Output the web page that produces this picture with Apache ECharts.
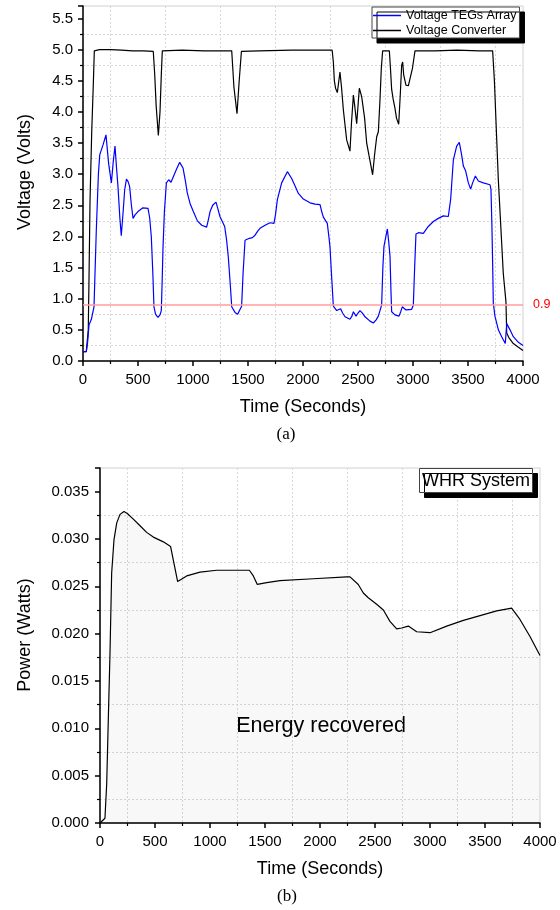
<!DOCTYPE html>
<html>
<head>
<meta charset="utf-8">
<title>TEG voltage and WHR power</title>
<script src="https://cdn.jsdelivr.net/npm/echarts@6/dist/echarts.min.js"></script>
<style>
  html, body { margin: 0; padding: 0; background: #fff; }
  #chart { width: 560px; height: 910px; }
</style>
</head>
<body>
<div id="chart"></div>
<script>
// [time (s), volts]
const voltTeg = [
  [0, 0.15], [30, 0.15], [42, 0.3], [55, 0.58], [65, 0.55], [76, 0.67], [100, 0.87], [121, 2.1], [140, 3.0],
  [152, 3.31], [182, 3.47], [209, 3.63], [233, 3.17], [258, 2.86], [275, 3.2], [291, 3.45], [305, 3.1],
  [318, 2.8], [335, 2.3], [348, 2.01], [365, 2.4], [379, 2.75], [395, 2.92], [410, 2.88], [424, 2.8],
  [440, 2.5], [455, 2.29], [475, 2.35], [500, 2.4], [545, 2.46], [591, 2.45], [606, 2.3], [621, 2.0],
  [635, 1.4], [645, 0.87], [660, 0.75], [682, 0.70], [700, 0.74], [712, 0.81], [720, 1.3], [727, 1.8],
  [740, 2.4], [758, 2.86], [779, 2.91], [800, 2.87], [818, 2.88], [848, 3.07], [879, 3.19], [909, 3.1],
  [930, 2.9], [948, 2.7], [973, 2.53], [1003, 2.40], [1040, 2.25], [1079, 2.18], [1124, 2.15], [1140, 2.27],
  [1155, 2.40], [1179, 2.50], [1209, 2.55], [1225, 2.45], [1245, 2.32], [1288, 2.16], [1305, 1.95],
  [1321, 1.67], [1340, 1.2], [1352, 0.87], [1382, 0.78], [1406, 0.75], [1442, 0.88], [1455, 1.4],
  [1473, 1.94], [1512, 1.97], [1540, 1.98], [1564, 2.02], [1590, 2.09], [1609, 2.13], [1655, 2.18],
  [1700, 2.22], [1736, 2.21], [1750, 2.35], [1767, 2.59], [1806, 2.86], [1858, 3.04], [1897, 2.93],
  [1930, 2.8], [1958, 2.69], [2003, 2.60], [2064, 2.54], [2110, 2.52], [2155, 2.51], [2170, 2.4],
  [2185, 2.31], [2221, 2.21], [2235, 2.0], [2245, 1.84], [2262, 1.3], [2276, 0.88], [2306, 0.81],
  [2342, 0.84], [2360, 0.77], [2382, 0.71], [2427, 0.67], [2445, 0.72], [2458, 0.79], [2482, 0.72],
  [2500, 0.77], [2518, 0.81], [2540, 0.77], [2564, 0.71], [2609, 0.64], [2639, 0.61], [2665, 0.66],
  [2685, 0.72], [2715, 0.90], [2726, 1.5], [2736, 1.84], [2767, 2.12], [2780, 1.9], [2791, 1.68],
  [2800, 1.1], [2806, 0.79], [2836, 0.74], [2873, 0.72], [2890, 0.8], [2903, 0.87], [2936, 0.82],
  [2988, 0.83], [3003, 0.90], [3015, 1.5], [3027, 2.04], [3049, 2.06], [3094, 2.05], [3139, 2.16],
  [3185, 2.24], [3230, 2.29], [3276, 2.33], [3321, 2.32], [3342, 2.59], [3367, 3.23], [3397, 3.45],
  [3421, 3.51], [3442, 3.31], [3458, 3.13], [3479, 3.05], [3503, 2.86], [3524, 2.76], [3542, 2.86],
  [3567, 2.97], [3594, 2.89], [3639, 2.86], [3700, 2.83], [3709, 2.75], [3717, 2.2], [3724, 1.57],
  [3730, 0.93], [3745, 0.72], [3776, 0.5], [3806, 0.39], [3839, 0.28], [3845, 0.3], [3852, 0.6],
  [3882, 0.5], [3912, 0.39], [3958, 0.3], [4000, 0.25]
];

const voltConv = [
  [0, 0.15], [30, 0.15], [39, 0.18], [48, 0.5], [56, 1.5], [64, 2.59], [79, 3.66], [94, 4.46], [103, 4.98],
  [150, 5.0], [250, 5.0], [350, 4.99], [450, 4.98], [550, 4.98], [639, 4.97], [652, 4.6], [665, 4.1],
  [685, 3.62], [700, 4.0], [712, 4.6], [721, 4.98], [900, 4.99], [1100, 4.98], [1352, 4.98], [1360, 4.75],
  [1372, 4.4], [1385, 4.2], [1400, 3.97], [1420, 4.5], [1440, 4.97], [1600, 4.98], [1900, 4.99],
  [2100, 4.99], [2265, 4.99], [2276, 4.80], [2285, 4.5], [2296, 4.38], [2312, 4.31], [2336, 4.64],
  [2350, 4.4], [2367, 4.03], [2397, 3.55], [2427, 3.37], [2440, 3.8], [2458, 4.27], [2470, 4.1],
  [2488, 3.81], [2512, 4.38], [2533, 4.25], [2560, 3.9], [2579, 3.5], [2600, 3.3], [2633, 2.99],
  [2650, 3.3], [2670, 3.6], [2685, 3.68], [2700, 4.2], [2712, 4.7], [2724, 4.98], [2785, 4.98],
  [2795, 4.7], [2806, 4.36], [2820, 4.2], [2836, 4.06], [2850, 3.9], [2870, 3.8], [2885, 4.3],
  [2897, 4.75], [2906, 4.8], [2915, 4.6], [2936, 4.43], [2958, 4.42], [2975, 4.45], [2995, 4.7],
  [3018, 4.98], [3200, 4.98], [3400, 4.99], [3600, 4.98], [3724, 4.98], [3740, 4.5], [3760, 3.6],
  [3776, 2.9], [3800, 2.1], [3821, 1.4], [3845, 0.95], [3852, 0.45], [3870, 0.38], [3912, 0.28],
  [3958, 0.22], [4000, 0.17]
];

// [time (s), watts]
const powerWhr = [
  [0, 0], [15, 0], [45, 0.0005], [61, 0.0042], [76, 0.0112], [91, 0.0180], [106, 0.0264], [127, 0.0299],
  [152, 0.0317], [182, 0.0326], [218, 0.0329], [248, 0.0327], [303, 0.0321], [364, 0.0314], [424, 0.0307],
  [485, 0.0302], [576, 0.0297], [642, 0.0292], [706, 0.0255], [788, 0.0261], [909, 0.0265], [1061, 0.0267],
  [1212, 0.0267], [1358, 0.0267], [1394, 0.0261], [1430, 0.0252], [1515, 0.0254], [1636, 0.0256],
  [1939, 0.0258], [2242, 0.0260], [2273, 0.0260], [2348, 0.0252], [2394, 0.0243], [2439, 0.0238],
  [2515, 0.0231], [2576, 0.0225], [2636, 0.0213], [2697, 0.0205], [2742, 0.0206], [2803, 0.0208],
  [2879, 0.0202], [3000, 0.0201], [3152, 0.0208], [3303, 0.0214], [3455, 0.0219], [3606, 0.0224],
  [3742, 0.0227], [3818, 0.0215], [3909, 0.0197], [4000, 0.0177]
];

const threshold = 0.9;
const seriesNames = ['Voltage TEGs Array', 'Voltage Converter'];

const font = '"Liberation Sans", Arial, sans-serif';
const serif = '"Liberation Serif", "Times New Roman", serif';

const chart = echarts.init(document.getElementById('chart'));

const xAxisOf = (gridIndex) => ({
  type: 'value',
  gridIndex,
  min: 0,
  max: 4000,
  interval: 500,
  name: 'Time (Seconds)',
  nameLocation: 'middle',
  nameGap: 37,
  nameTextStyle: { fontFamily: font, fontSize: 18, color: '#000' },
  axisLine: { onZero: false, lineStyle: { color: '#000', width: 1.5 } },
  axisTick: { length: 5, lineStyle: { color: '#000', width: 1.5 } },
  minorTick: { show: true, splitNumber: 2, length: 3, lineStyle: { color: '#000', width: 1.2 } },
  axisLabel: { fontFamily: font, fontSize: 15, color: '#000', margin: 11, formatter: v => String(v) },
  splitLine: { show: false },
  minorSplitLine: { show: true, lineStyle: { color: '#d8d8d8', type: [2, 2] } }
})

const yAxisOf = (gridIndex, max, interval, digits, margin) => ({
  type: 'value',
  gridIndex,
  min: 0,
  max,
  interval,
  axisLine: { show: true, lineStyle: { color: '#000', width: 1.5 } },
  axisTick: { show: true, length: 5, lineStyle: { color: '#000', width: 1.5 } },
  minorTick: { show: true, splitNumber: 2, length: 3, lineStyle: { color: '#000', width: 1.2 } },
  axisLabel: {
    fontFamily: font, fontSize: 15, color: '#000', margin, showMaxLabel: false,
    formatter: v => v.toFixed(digits)
  },
  splitLine: { show: false },
  minorSplitLine: { show: true, lineStyle: { color: '#d8d8d8', type: [2, 2] } }
})

const option = {
  animation: false,
  backgroundColor: '#fff',
  grid: [
    { left: 83, right: 37, top: 6, bottom: 549, show: true, borderColor: '#d0d0d0', borderWidth: 1 },
    { left: 100, right: 20, top: 468, bottom: 87, show: true, borderColor: '#d0d0d0', borderWidth: 1 }
  ],
  xAxis: [xAxisOf(0), xAxisOf(1)],
  yAxis: [yAxisOf(0, 5.7, 0.5, 1, 10), yAxisOf(1, 0.0375, 0.005, 3, 11)],
  legend: {
    data: seriesNames.map(name => ({ name, icon: 'rect' })),
    orient: 'vertical',
    left: 372,
    top: 7,
    itemWidth: 28,
    itemHeight: 1.5,
    itemGap: 2,
    padding: [2, 3, 1, 1],
    backgroundColor: '#fff',
    borderColor: '#444',
    borderWidth: 1,
    shadowColor: '#000',
    shadowBlur: 0,
    shadowOffsetX: 5,
    shadowOffsetY: 5,
    textStyle: { fontFamily: font, fontSize: 12.5, color: '#000' }
  },
  title: [{
    text: 'WHR System',
    left: 419,
    top: 468,
    padding: [3, 3, 2, 3],
    backgroundColor: '#fff',
    borderColor: '#444',
    borderWidth: 1,
    shadowColor: '#000',
    shadowBlur: 0,
    shadowOffsetX: 5,
    shadowOffsetY: 5,
    textStyle: { fontFamily: font, fontSize: 18, fontWeight: 'normal', color: '#000', lineHeight: 20 }
  }],
  graphic: [
    { type: 'text', x: 25, y: 172, rotation: Math.PI / 2,
      style: { text: 'Voltage (Volts)', font: '18px ' + font, fill: '#000', align: 'center', verticalAlign: 'middle' } },
    { type: 'text', x: 25, y: 635, rotation: Math.PI / 2,
      style: { text: 'Power (Watts)', font: '18px ' + font, fill: '#000', align: 'center', verticalAlign: 'middle' } },
    { type: 'text', x: 286, y: 435,
      style: { text: '(a)', font: '17px ' + serif, fill: '#000', align: 'center', verticalAlign: 'middle' } },
    { type: 'text', x: 287, y: 897,
      style: { text: '(b)', font: '17px ' + serif, fill: '#000', align: 'center', verticalAlign: 'middle' } },
    { type: 'text', x: 321, y: 726,
      style: { text: 'Energy recovered', font: '21.5px ' + font, fill: '#000', align: 'center', verticalAlign: 'middle' } }
  ],
  series: [
    {
      name: seriesNames[0],
      type: 'line',
      xAxisIndex: 0,
      yAxisIndex: 0,
      data: voltTeg,
      symbol: 'none',
      lineStyle: { color: '#0000ff', width: 1.2 },
      itemStyle: { color: '#0000ff' },
      z: 3,
      markLine: {
        silent: true,
        symbol: 'none',
        lineStyle: { color: '#ff9c9c', width: 1.5, type: 'solid' },
        label: { position: 'end', distance: 10, formatter: '0.9', color: '#ff0000', fontFamily: font, fontSize: 12.5 },
        data: [{ yAxis: threshold }]
      }
    },
    {
      name: seriesNames[1],
      type: 'line',
      xAxisIndex: 0,
      yAxisIndex: 0,
      data: voltConv,
      symbol: 'none',
      lineStyle: { color: '#000', width: 1.2 },
      itemStyle: { color: '#000' },
      z: 2
    },
    {
      name: 'WHR System',
      type: 'line',
      xAxisIndex: 1,
      yAxisIndex: 1,
      data: powerWhr,
      symbol: 'none',
      lineStyle: { color: '#000', width: 1.2 },
      itemStyle: { color: '#000' },
      areaStyle: { color: 'rgba(0,0,0,0.04)' }
    }
  ]
}

chart.setOption(option)
</script>
</body>
</html>
